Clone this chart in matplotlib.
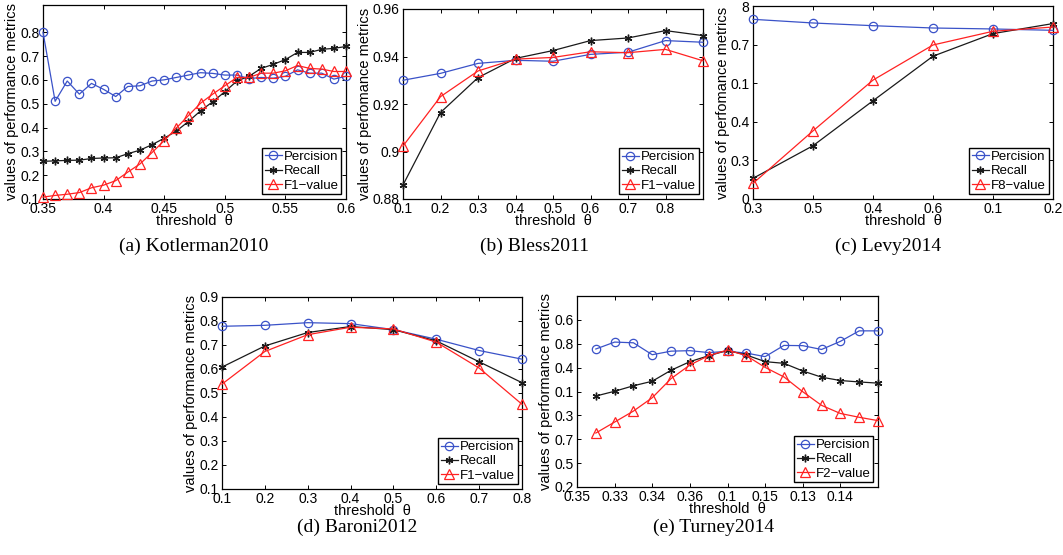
import numpy as np
import matplotlib
matplotlib.use("Agg")
import matplotlib.pyplot as plt

plt.rcParams['font.family'] = ['Liberation Sans', 'DejaVu Sans']

# ---------------- data ----------------
# (a) Kotlerman2010
kot_x = [0.35, 0.36, 0.37, 0.38, 0.39, 0.40, 0.41, 0.42, 0.43, 0.44, 0.45, 0.46, 0.47,
         0.48, 0.49, 0.50, 0.51, 0.52, 0.53, 0.54, 0.55, 0.56, 0.57, 0.58, 0.59, 0.60]
kot_prec = [0.80, 0.51, 0.595, 0.54, 0.585, 0.56, 0.53, 0.572, 0.575, 0.595, 0.60, 0.61, 0.62,
            0.63, 0.627, 0.62, 0.62, 0.605, 0.61, 0.607, 0.615, 0.642, 0.628, 0.628, 0.603, 0.615]
kot_rec = [0.258, 0.26, 0.262, 0.263, 0.27, 0.272, 0.273, 0.29, 0.305, 0.328, 0.355, 0.385, 0.425,
           0.47, 0.508, 0.55, 0.595, 0.615, 0.648, 0.665, 0.685, 0.715, 0.715, 0.728, 0.732, 0.74]
kot_f = [0.108, 0.115, 0.12, 0.127, 0.147, 0.158, 0.177, 0.213, 0.247, 0.295, 0.345, 0.398, 0.45,
         0.502, 0.54, 0.575, 0.61, 0.61, 0.628, 0.628, 0.638, 0.66, 0.648, 0.645, 0.635, 0.635]
kot_xticks = [0.35, 0.4, 0.45, 0.5, 0.55, 0.6]
kot_yticks = [0.1, 0.2, 0.3, 0.4, 0.5, 0.6, 0.7, 0.8]

# (b) Bless2011
bless_x = [0.1, 0.2, 0.3, 0.4, 0.5, 0.6, 0.7, 0.8, 0.9]
bless_prec = [0.930, 0.9329, 0.9371, 0.9384, 0.9380, 0.9409, 0.9418, 0.9467, 0.9460]
bless_rec = [0.8859, 0.9164, 0.9311, 0.9392, 0.9425, 0.9467, 0.9478, 0.9509, 0.9488]
bless_f = [0.9023, 0.9231, 0.9339, 0.9389, 0.9396, 0.9420, 0.9416, 0.9430, 0.9382]
bless_xticks = [0.1, 0.2, 0.3, 0.4, 0.5, 0.6, 0.7, 0.8]
bless_yticks = [0.88, 0.90, 0.92, 0.94, 0.96]
bless_yticklabels = ['0.88', '0.9', '0.92', '0.94', '0.96']

# (c) Levy2014 (categorical axes, tick labels as printed)
levy_xlabels = ['0.3', '0.5', '0.4', '0.6', '0.1', '0.2']
levy_prec = [0.931, 0.912, 0.898, 0.886, 0.881, 0.874]
levy_rec = [0.107, 0.276, 0.509, 0.740, 0.857, 0.909]
levy_f = [0.081, 0.353, 0.616, 0.798, 0.869, 0.891]
levy_yticks = [0.0, 0.2, 0.4, 0.6, 0.8, 1.0]
levy_yticklabels = ['0', '0.3', '0.4', '0.1', '0.7', '8']

# (d) Baroni2012
bar_x = [0.1, 0.2, 0.3, 0.4, 0.5, 0.6, 0.7, 0.8]
bar_prec = [0.778, 0.782, 0.793, 0.789, 0.764, 0.724, 0.677, 0.641]
bar_rec = [0.608, 0.696, 0.752, 0.777, 0.764, 0.717, 0.630, 0.543]
bar_f = [0.537, 0.673, 0.743, 0.774, 0.767, 0.712, 0.604, 0.453]
bar_yticks = [0.1, 0.2, 0.3, 0.4, 0.5, 0.6, 0.7, 0.8, 0.9]

# (e) Turney2014 (categorical axes, tick labels as printed)
tur_xlabels = ['0.35', '0.33', '0.34', '0.36', '0.1', '0.15', '0.13', '0.14']
tur_pos = [0.5, 1.0, 1.5, 2.0, 2.5, 3.0, 3.5, 4.0, 4.5, 5.0, 5.5, 6.0, 6.5, 7.0, 7.5, 8.0]
tur_prec = [0.778, 0.807, 0.804, 0.754, 0.769, 0.771, 0.763, 0.768,
            0.761, 0.746, 0.793, 0.792, 0.776, 0.810, 0.854, 0.854]
tur_rec = [0.581, 0.601, 0.624, 0.643, 0.689, 0.725, 0.750, 0.772,
           0.753, 0.725, 0.718, 0.686, 0.660, 0.646, 0.640, 0.635]
tur_f = [0.426, 0.472, 0.518, 0.574, 0.654, 0.711, 0.750, 0.774,
         0.750, 0.701, 0.661, 0.599, 0.542, 0.508, 0.492, 0.478]
tur_yticks = [0.2, 0.3, 0.4, 0.5, 0.6, 0.7, 0.8, 0.9]
tur_yticklabels = ['0.2', '0.5', '0.7', '0.3', '0.1', '0.4', '0.8', '0.6']

captions = ['(a) Kotlerman2010', '(b) Bless2011', '(c) Levy2014', '(d) Baroni2012', '(e) Turney2014']

# ---------------- style ----------------
W, H = 1063, 555
BLUE = '#3a52c8'
BLACK = '#1a1a1a'
RED = '#ff2222'
TICK_FS = 10
LAB_FS = 10.5
LEG_FS = 9.5

fig = plt.figure(figsize=(W / 100, H / 100), dpi=100)


def add_ax(l, t, r, b):
    return fig.add_axes([l / W, 1 - b / H, (r - l) / W, (b - t) / H])


def draw(ax, x, p, r, f, flabel, ylabel):
    ax.plot(x, p, '-', color=BLUE, lw=0.9, marker='o', ms=6, mfc='none', mec=BLUE, mew=0.9,
            label='Percision', clip_on=False, zorder=3)
    ax.plot(x, r, '-', color=BLACK, lw=0.9, marker=(6, 2, 0), ms=5.5, mec=BLACK, mew=1.0,
            label='Recall', clip_on=False, zorder=3)
    ax.plot(x, f, '-', color=RED, lw=0.9, marker='^', ms=6.5, mfc='none', mec=RED, mew=0.9,
            label=flabel, clip_on=False, zorder=3)
    ax.set_xlabel('threshold  \u03b8', fontsize=LAB_FS, labelpad=-1.5)
    ax.set_ylabel(ylabel, fontsize=LAB_FS, labelpad=0.5)
    ax.tick_params(direction='in', top=True, right=True, labelsize=TICK_FS, length=3,
                   width=0.7)
    ax.tick_params(axis='y', pad=2.5)
    ax.tick_params(axis='x', pad=2.5)
    for s in ax.spines.values():
        s.set_linewidth(0.9)
    leg = ax.legend(loc='lower right', bbox_to_anchor=(0.985, 0.025), fontsize=LEG_FS,
                    frameon=True, fancybox=False, edgecolor='black', framealpha=1,
                    handlelength=1.3, handletextpad=0.15, borderpad=0.2, labelspacing=0.15,
                    borderaxespad=0.0)
    leg.get_frame().set_linewidth(1.0)


PERF = 'values of performance metrics'
PERFO = 'values of perfomance metrics'

# (a)
ax = add_ax(43, 5, 346, 199)
draw(ax, kot_x, kot_prec, kot_rec, kot_f, 'F1\u2212value', PERF)
ax.set_xlim(0.35, 0.6)
ax.set_ylim(0.1, 0.914)
ax.set_xticks(kot_xticks)
ax.set_xticklabels([f'{v:g}' for v in kot_xticks])
ax.set_yticks(kot_yticks)
ax.set_yticklabels([f'{v:g}' for v in kot_yticks])

# (b)
ax = add_ax(403, 9, 703, 199)
draw(ax, bless_x, bless_prec, bless_rec, bless_f, 'F1\u2212value', PERFO)
ax.set_xlim(0.1, 0.9)
ax.set_ylim(0.88, 0.96)
ax.set_xticks(bless_xticks)
ax.set_xticklabels([f'{v:g}' for v in bless_xticks])
ax.set_yticks(bless_yticks)
ax.set_yticklabels(bless_yticklabels)

# (c)
ax = add_ax(753, 6, 1053, 199)
levy_pos = list(range(len(levy_xlabels)))
draw(ax, levy_pos, levy_prec, levy_rec, levy_f, 'F8\u2212value', PERFO)
ax.set_xlim(levy_pos[0], levy_pos[-1])
ax.set_ylim(0, 1)
ax.set_xticks(levy_pos)
ax.set_xticklabels(levy_xlabels)
ax.set_yticks(levy_yticks)
ax.set_yticklabels(levy_yticklabels)

# (d)
ax = add_ax(222, 297, 522, 489)
draw(ax, bar_x, bar_prec, bar_rec, bar_f, 'F1\u2212value', PERF)
ax.set_xlim(0.1, 0.8)
ax.set_ylim(0.1, 0.9)
ax.set_xticks(bar_x)
ax.set_xticklabels([f'{v:g}' for v in bar_x])
ax.set_yticks(bar_yticks)
ax.set_yticklabels([f'{v:g}' for v in bar_yticks])

# (e)
ax = add_ax(577, 296, 878, 487)
draw(ax, tur_pos, tur_prec, tur_rec, tur_f, 'F2\u2212value', PERF)
ax.set_xlim(0, 8)
ax.set_ylim(0.2, 1.0)
ax.set_xticks(list(range(len(tur_xlabels))))
ax.set_xticklabels(tur_xlabels)
ax.set_yticks(tur_yticks)
ax.set_yticklabels(tur_yticklabels)

# captions
cap_pos = [(194, 246), (535, 246), (888, 246), (357, 527), (714, 527)]
for txt, (cx, cy) in zip(captions, cap_pos):
    fig.text(cx / W, 1 - cy / H, txt, ha='center', va='center', fontsize=14,
             family=['Liberation Serif', 'DejaVu Serif'])

fig.savefig('out.png', dpi=100)
